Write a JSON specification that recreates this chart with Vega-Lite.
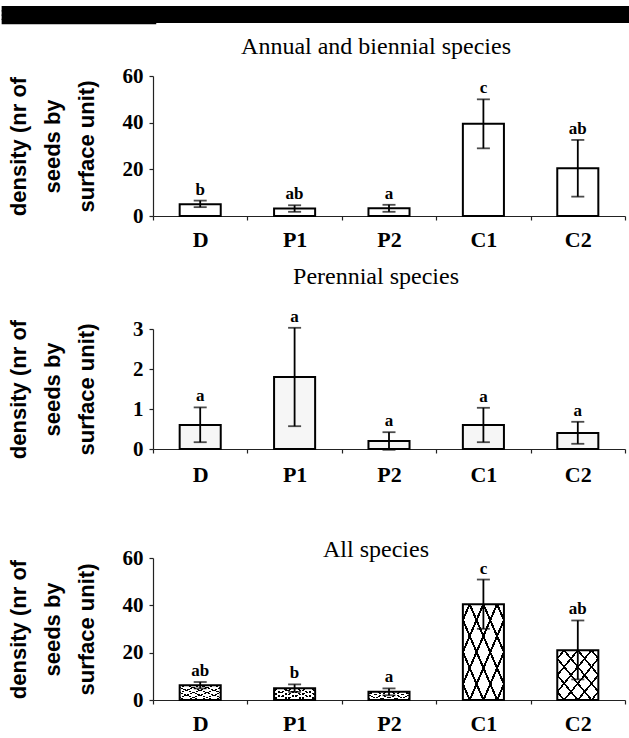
{
  "$schema": "https://vega.github.io/schema/vega-lite/v6.json",
  "padding": {"top": 4, "left": 0, "right": 0, "bottom": 0},
  "background": "white",
  "config": {
    "view": {"stroke": null},
    "font": "Liberation Serif",
    "axis": {
      "domainColor": "#222", "tickColor": "#222", "labelColor": "black", "titleColor": "black",
      "grid": false, "tickSize": 4, "domainWidth": 1.2, "tickWidth": 1.2,
      "labelFont": "Liberation Serif", "labelFontWeight": "bold",
      "titleFont": "Liberation Sans", "titleFontWeight": "bold", "titleFontSize": 22
    },
    "axisX": {"labelFontSize": 22, "labelPadding": 9, "labelAngle": 0, "tickBand": "extent", "title": null},
    "axisY": {"labelFontSize": 21, "labelPadding": 6, "minExtent": 33, "maxExtent": 33, "titlePadding": 22, "titleLineHeight": 34},
    "title": {"font": "Liberation Serif", "fontSize": 24, "fontWeight": "normal", "color": "black", "frame": "group", "anchor": "middle", "dx": -13}
  },
  "datasets": {
    "annual": [
      {"site": "D", "mean": 5, "low": 3.8, "high": 6.6, "letter": "b"},
      {"site": "P1", "mean": 3.2, "low": 1.8, "high": 4.6, "letter": "ab"},
      {"site": "P2", "mean": 3.3, "low": 1.8, "high": 4.8, "letter": "a"},
      {"site": "C1", "mean": 39.5, "low": 29, "high": 50, "letter": "c"},
      {"site": "C2", "mean": 20.5, "low": 8.3, "high": 32.6, "letter": "ab"}
    ],
    "perennial": [
      {"site": "D", "mean": 0.6, "low": 0.17, "high": 1.04, "letter": "a"},
      {"site": "P1", "mean": 1.8, "low": 0.57, "high": 3.03, "letter": "a"},
      {"site": "P2", "mean": 0.2, "low": -0.02, "high": 0.42, "letter": "a"},
      {"site": "C1", "mean": 0.6, "low": 0.17, "high": 1.03, "letter": "a"},
      {"site": "C2", "mean": 0.4, "low": 0.13, "high": 0.68, "letter": "a"}
    ],
    "all": [
      {"site": "D", "mean": 6.2, "low": 4.9, "high": 7.6, "letter": "ab"},
      {"site": "P1", "mean": 5, "low": 3.4, "high": 6.6, "letter": "b"},
      {"site": "P2", "mean": 3.5, "low": 2.0, "high": 4.9, "letter": "a"},
      {"site": "C1", "mean": 40.5, "low": 30.1, "high": 50.9, "letter": "c"},
      {"site": "C2", "mean": 21, "low": 8.7, "high": 33.6, "letter": "ab"}
    ],
    "band": [{"v": 0.5}]
  },
  "spacing": 10,
  "vconcat": [
    {
      "width": 476, "height": 17,
      "data": {"name": "band"},
      "mark": {"type": "point", "opacity": 0},
      "encoding": {
        "y": {"field": "v", "type": "quantitative", "scale": {"domain": [0, 1], "nice": false},
          "axis": {"values": [0.125, 0.375, 0.625, 0.875], "tickSize": 149.1, "tickWidth": 5.5, "tickCap": "square", "tickRound": false, "tickColor": "black", "labels": false, "domain": false, "title": null, "minExtent": 0, "maxExtent": 200}}
      },
      "view": {"fill": "black", "stroke": null}
    },
    {
      "spacing": 53,
      "vconcat": [
        {
          "spacing": 14,
          "vconcat": [
            {
              "width": 472, "height": 140,
              "data": {"name": "annual"},
              "title": {"text": "Annual and biennial species", "offset": 6},
              "encoding": {
                "x": {"field": "site", "type": "nominal", "sort": ["D", "P1", "P2", "C1", "C2"], "scale": {"paddingInner": 0, "paddingOuter": 0}}
              },
              "layer": [
                {
                  "mark": {"type": "bar", "width": {"band": 0.435}, "fill": "white", "stroke": "black", "strokeWidth": 2},
                  "encoding": {"y": {"field": "mean", "type": "quantitative", "scale": {"domain": [0, 60], "nice": false}, "axis": {"values": [0, 20, 40, 60], "title": ["density (nr of", "seeds by", "surface unit)"]}}}
                },
                {
                  "mark": {"type": "errorbar", "ticks": true, "size": 13, "thickness": 1.8, "color": "black"},
                  "encoding": {"y": {"field": "low", "type": "quantitative", "axis": {"values": [0, 20, 40, 60], "title": ["density (nr of", "seeds by", "surface unit)"]}}, "y2": {"field": "high"}}
                },
                {
                  "mark": {"type": "text", "baseline": "alphabetic", "dy": -6, "fontSize": 17, "fontWeight": "bold", "font": "Liberation Serif", "color": "black"},
                  "encoding": {"y": {"field": "high", "type": "quantitative", "axis": {"values": [0, 20, 40, 60], "title": ["density (nr of", "seeds by", "surface unit)"]}}, "text": {"field": "letter"}}
                }
              ]
            },
            {
              "width": 472, "height": 120,
              "data": {"name": "perennial"},
              "title": {"text": "Perennial species", "offset": 19},
              "encoding": {
                "x": {"field": "site", "type": "nominal", "sort": ["D", "P1", "P2", "C1", "C2"], "scale": {"paddingInner": 0, "paddingOuter": 0}, "axis": {"labelPadding": 11}}
              },
              "layer": [
                {
                  "mark": {"type": "bar", "width": {"band": 0.435}, "fill": "#f6f6f6", "stroke": "black", "strokeWidth": 2},
                  "encoding": {"y": {"field": "mean", "type": "quantitative", "scale": {"domain": [0, 3], "nice": false}, "axis": {"values": [0, 1, 2, 3], "title": ["density (nr of", "seeds by", "surface unit)"]}}}
                },
                {
                  "mark": {"type": "errorbar", "ticks": true, "size": 13, "thickness": 1.8, "color": "black"},
                  "encoding": {"y": {"field": "low", "type": "quantitative", "axis": {"values": [0, 1, 2, 3], "title": ["density (nr of", "seeds by", "surface unit)"]}}, "y2": {"field": "high"}}
                },
                {
                  "mark": {"type": "text", "baseline": "alphabetic", "dy": -6, "fontSize": 17, "fontWeight": "bold", "font": "Liberation Serif", "color": "black"},
                  "encoding": {"y": {"field": "high", "type": "quantitative", "axis": {"values": [0, 1, 2, 3], "title": ["density (nr of", "seeds by", "surface unit)"]}}, "text": {"field": "letter"}}
                }
              ]
            }
          ]
        },
        {
          "width": 472, "height": 142,
          "data": {"name": "all"},
          "title": {"text": "All species", "offset": -15},
          "encoding": {
            "x": {"field": "site", "type": "nominal", "sort": ["D", "P1", "P2", "C1", "C2"], "scale": {"paddingInner": 0, "paddingOuter": 0}}
          },
          "layer": [
            {
              "mark": {"type": "bar", "width": {"band": 0.435}, "strokeWidth": 0,
                "fill": {"gradient": "linear", "x1": 0, "y1": 0, "x2": 1, "y2": 1, "stops": [
                  {"offset": 0, "color": "rgba(0,0,0,0)"},
                  {"offset": 0.070, "color": "rgba(0,0,0,0)"}, {"offset": 0.070, "color": "black"}, {"offset": 0.096, "color": "black"}, {"offset": 0.096, "color": "rgba(0,0,0,0)"},
                  {"offset": 0.237, "color": "rgba(0,0,0,0)"}, {"offset": 0.237, "color": "black"}, {"offset": 0.263, "color": "black"}, {"offset": 0.263, "color": "rgba(0,0,0,0)"},
                  {"offset": 0.404, "color": "rgba(0,0,0,0)"}, {"offset": 0.404, "color": "black"}, {"offset": 0.430, "color": "black"}, {"offset": 0.430, "color": "rgba(0,0,0,0)"},
                  {"offset": 0.570, "color": "rgba(0,0,0,0)"}, {"offset": 0.570, "color": "black"}, {"offset": 0.596, "color": "black"}, {"offset": 0.596, "color": "rgba(0,0,0,0)"},
                  {"offset": 0.737, "color": "rgba(0,0,0,0)"}, {"offset": 0.737, "color": "black"}, {"offset": 0.763, "color": "black"}, {"offset": 0.763, "color": "rgba(0,0,0,0)"},
                  {"offset": 0.904, "color": "rgba(0,0,0,0)"}, {"offset": 0.904, "color": "black"}, {"offset": 0.930, "color": "black"}, {"offset": 0.930, "color": "rgba(0,0,0,0)"},
                  {"offset": 1, "color": "rgba(0,0,0,0)"}
                ]}},
              "encoding": {"y": {"field": "mean", "type": "quantitative", "scale": {"domain": [0, 60], "nice": false}, "axis": {"values": [0, 20, 40, 60], "title": ["density (nr of", "seeds by", "surface unit)"]}}}
            },
            {
              "mark": {"type": "bar", "width": {"band": 0.435}, "strokeWidth": 0,
                "fill": {"gradient": "linear", "x1": 1, "y1": 0, "x2": 0, "y2": 1, "stops": [
                  {"offset": 0, "color": "rgba(0,0,0,0)"},
                  {"offset": 0.070, "color": "rgba(0,0,0,0)"}, {"offset": 0.070, "color": "black"}, {"offset": 0.096, "color": "black"}, {"offset": 0.096, "color": "rgba(0,0,0,0)"},
                  {"offset": 0.237, "color": "rgba(0,0,0,0)"}, {"offset": 0.237, "color": "black"}, {"offset": 0.263, "color": "black"}, {"offset": 0.263, "color": "rgba(0,0,0,0)"},
                  {"offset": 0.404, "color": "rgba(0,0,0,0)"}, {"offset": 0.404, "color": "black"}, {"offset": 0.430, "color": "black"}, {"offset": 0.430, "color": "rgba(0,0,0,0)"},
                  {"offset": 0.570, "color": "rgba(0,0,0,0)"}, {"offset": 0.570, "color": "black"}, {"offset": 0.596, "color": "black"}, {"offset": 0.596, "color": "rgba(0,0,0,0)"},
                  {"offset": 0.737, "color": "rgba(0,0,0,0)"}, {"offset": 0.737, "color": "black"}, {"offset": 0.763, "color": "black"}, {"offset": 0.763, "color": "rgba(0,0,0,0)"},
                  {"offset": 0.904, "color": "rgba(0,0,0,0)"}, {"offset": 0.904, "color": "black"}, {"offset": 0.930, "color": "black"}, {"offset": 0.930, "color": "rgba(0,0,0,0)"},
                  {"offset": 1, "color": "rgba(0,0,0,0)"}
                ]}},
              "encoding": {"y": {"field": "mean", "type": "quantitative", "axis": {"values": [0, 20, 40, 60], "title": ["density (nr of", "seeds by", "surface unit)"]}}}
            },
            {
              "mark": {"type": "bar", "width": {"band": 0.435}, "fillOpacity": 0, "stroke": "black", "strokeWidth": 2},
              "encoding": {"y": {"field": "mean", "type": "quantitative", "axis": {"values": [0, 20, 40, 60], "title": ["density (nr of", "seeds by", "surface unit)"]}}}
            },
            {
              "mark": {"type": "errorbar", "ticks": true, "size": 13, "thickness": 1.8, "color": "black"},
              "encoding": {"y": {"field": "low", "type": "quantitative", "axis": {"values": [0, 20, 40, 60], "title": ["density (nr of", "seeds by", "surface unit)"]}}, "y2": {"field": "high"}}
            },
            {
              "mark": {"type": "text", "baseline": "alphabetic", "dy": -6, "fontSize": 17, "fontWeight": "bold", "font": "Liberation Serif", "color": "black"},
              "encoding": {"y": {"field": "high", "type": "quantitative", "axis": {"values": [0, 20, 40, 60], "title": ["density (nr of", "seeds by", "surface unit)"]}}, "text": {"field": "letter"}}
            }
          ]
        }
      ]
    }
  ]
}
